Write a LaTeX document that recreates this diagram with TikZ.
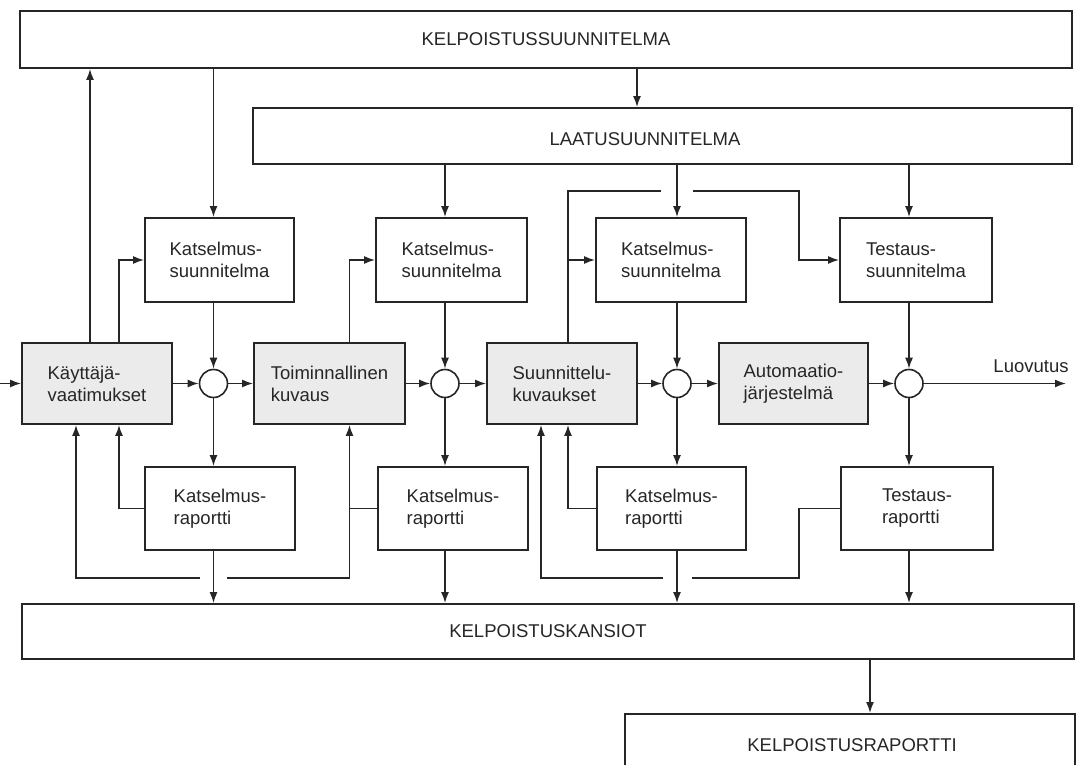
\documentclass[tikz,border=0pt]{standalone}
\usepackage{fontspec}
\setmainfont{Liberation Sans}
\usetikzlibrary{arrows.meta}
\definecolor{ink}{HTML}{262626}
\definecolor{phasefill}{HTML}{EBEBEB}
\begin{document}
\begin{tikzpicture}[x=1pt,y=-1pt,
  every node/.style={font=\fontsize{18.5}{22}\selectfont, text=ink},
  bigbox/.style={draw=ink, line width=1.8pt, inner sep=0pt},
  docbox/.style={draw=ink, line width=1.8pt, fill=white, align=left, inner sep=0pt},
  plan/.style={docbox, minimum height=84pt},
  report/.style={docbox, minimum height=83pt},
  phase/.style={docbox, fill=phasefill, minimum height=81pt},
  junction/.style={circle, draw=ink, line width=1.6pt, fill=white, minimum size=28pt, inner sep=0pt},
  flow/.style={draw=ink, line width=1.6pt, -{Latex[length=11pt,width=8pt]}},
  wire/.style={draw=ink, line width=1.6pt}
]
\path[use as bounding box] (0,0) rectangle (1077,765);
\clip (0,0) rectangle (1077,765);
\fill[white] (0,0) rectangle (1077,765);

% project-wide documents
\node[bigbox, minimum width=1052pt, minimum height=57pt] (K) at (546,39.5) {KELPOISTUSSUUNNITELMA};
\node[bigbox, minimum width=819pt, minimum height=56pt] (L) at (662.5,136) {};
\node (Ltext) at (645,139) {LAATUSUUNNITELMA};
\node[bigbox, minimum width=1052pt, minimum height=55pt] (KA) at (548,631.5) {KELPOISTUSKANSIOT};
\node[bigbox, minimum width=450pt, minimum height=100pt, anchor=north west] (KR) at (624,713) {};
\node (KRtext) at (852,745) {KELPOISTUSRAPORTTI};

% plans
\node[plan, minimum width=149pt] (kp1) at (219.5,260) {Katselmus-\\suunnitelma};
\node[plan, minimum width=151pt] (kp2) at (451.5,260) {Katselmus-\\suunnitelma};
\node[plan, minimum width=150pt] (kp3) at (671,260) {Katselmus-\\suunnitelma};
\node[plan, minimum width=152pt] (tp) at (916,260) {Testaus-\\suunnitelma};

% development phases
\node[phase, minimum width=150pt] (kv) at (97,383.5) {Käyttäjä-\\vaatimukset};
\node[phase, minimum width=151pt] (tk) at (329.5,383.5) {Toiminnallinen\\kuvaus};
\node[phase, minimum width=150pt] (sk) at (562,383.5) {Suunnittelu-\\kuvaukset};
\node[phase, minimum width=149pt] (aj) at (793.5,383.5) {Automaatio-\\järjestelmä};

% review points
\node[junction] (j1) at (213.5,383.5) {};
\node[junction] (j2) at (445,383.5) {};
\node[junction] (j3) at (677,383.5) {};
\node[junction] (j4) at (909,383.5) {};

% reports
\node[report, minimum width=150pt] (r1) at (220,508.5) {Katselmus-\\raportti};
\node[report, minimum width=150pt] (r2) at (453,508.5) {Katselmus-\\raportti};
\node[report, minimum width=149pt] (r3) at (671.5,508.5) {Katselmus-\\raportti};
\node[report, minimum width=152pt] (r4) at (917,508.5) {Testaus-\\raportti};

\node (luo) at (1031,366) {Luovutus};

% routing columns and line ends
\coordinate (xa) at (90,0);
\coordinate (xb) at (119,0);
\coordinate (xc) at (76,0);
\coordinate (xd) at (349.5,0);
\coordinate (xe) at (568,0);
\coordinate (xf) at (541,0);
\coordinate (xg) at (799,0);
\coordinate (xh) at (870,0);
\coordinate (xk) at (637,0);
\coordinate (in) at (0,383.5);
\coordinate (out) at (1066,383.5);
\coordinate (t1) at (661,191);
\coordinate (t2) at (693,191);
\coordinate (t3) at (799,191);
\coordinate (b1) at (200,578);
\coordinate (b2) at (227,578);
\coordinate (b3) at (663,578);
\coordinate (b4) at (692,578);

% plans flowing down
\draw[flow] (K.south -| xk) -- (L.north -| xk);
\draw[flow] (K.south -| j1) -- (kp1.north -| j1);
\draw[flow] (L.south -| j2) -- (kp2.north -| j2);
\draw[flow] (L.south -| j3) -- (kp3.north -| j3);
\draw[flow] (L.south -| j4) -- (tp.north -| j4);
\draw[flow] (KA.south -| xh) -- (KR.north -| xh);

% review columns
\draw[flow] (kp1.south -| j1) -- (j1.north);
\draw[flow] (j1.south) -- (r1.north -| j1);
\draw[flow] (r1.south -| j1) -- (KA.north -| j1);
\draw[flow] (kp2.south -| j2) -- (j2.north);
\draw[flow] (j2.south) -- (r2.north -| j2);
\draw[flow] (r2.south -| j2) -- (KA.north -| j2);
\draw[flow] (kp3.south -| j3) -- (j3.north);
\draw[flow] (j3.south) -- (r3.north -| j3);
\draw[flow] (r3.south -| j3) -- (KA.north -| j3);
\draw[flow] (tp.south -| j4) -- (j4.north);
\draw[flow] (j4.south) -- (r4.north -| j4);
\draw[flow] (r4.south -| j4) -- (KA.north -| j4);

% main chain
\draw[flow] (in) -- (kv.west);
\draw[flow] (kv.east) -- (j1.west);
\draw[flow] (j1.east) -- (tk.west);
\draw[flow] (tk.east) -- (j2.west);
\draw[flow] (j2.east) -- (sk.west);
\draw[flow] (sk.east) -- (j3.west);
\draw[flow] (j3.east) -- (aj.west);
\draw[flow] (aj.east) -- (j4.west);
\draw[flow] (j4.east) -- (out);

% phases feeding plans
\draw[flow] (kv.north -| xa) -- (K.south -| xa);
\draw[flow] (kv.north -| xb) |- (kp1.west);
\draw[flow] (tk.north -| xd) |- (kp2.west);
\draw[flow] (sk.north -| xe) |- (kp3.west);
\draw[wire] (sk.north -| xe) |- (t1);
\draw[flow] (t2) -- (t3) |- (tp.west);

% report feedback
\draw[flow] (r1.west) -| (kv.south -| xb);
\draw[flow] (r2.west) -| (tk.south -| xd);
\draw[flow] (r3.west) -| (sk.south -| xe);
\draw[flow] (b1) -| (kv.south -| xc);
\draw[wire] (b2) -| (xd |- r2.west);
\draw[flow] (b3) -| (sk.south -| xf);
\draw[wire] (b4) -| (xg |- r4.west) -- (r4.west);
\end{tikzpicture}
\end{document}
